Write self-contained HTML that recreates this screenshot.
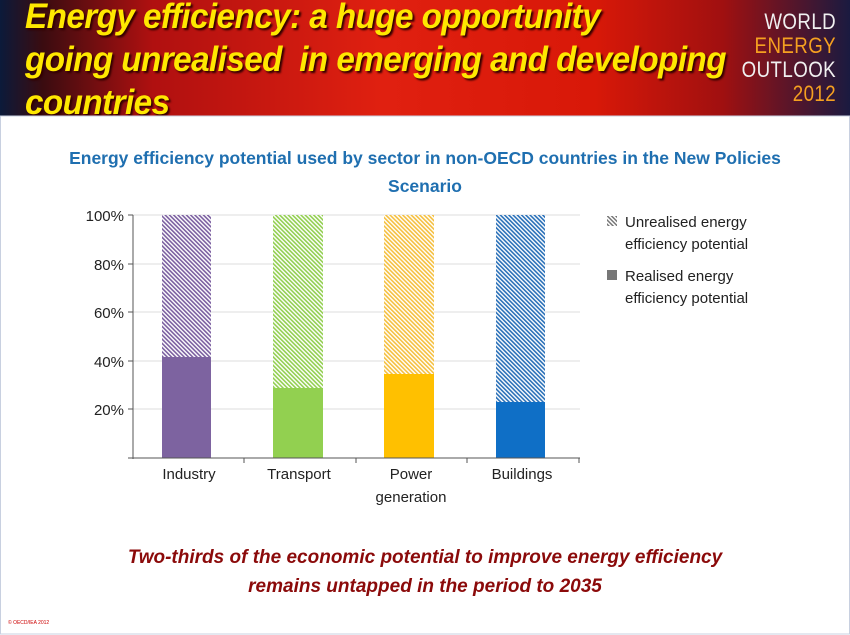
<!DOCTYPE html>
<html><head><meta charset="utf-8"><style>
body{margin:0;width:850px;height:635px;overflow:hidden;background:#fff;font-family:"Liberation Sans",sans-serif;position:relative}
.hdr{position:absolute;left:0;top:0;width:850px;height:116px;background:linear-gradient(90deg,#0b1a3a 0%,#3a0c10 5%,#b01010 18%,#e02010 45%,#d81808 70%,#a01010 85%,#1a1a40 100%);overflow:hidden}
.hdr .t{position:absolute;left:25px;top:-5px;color:#ffe800;font-weight:bold;font-style:italic;font-size:35px;line-height:43px;text-shadow:2px 2px 2px #300;letter-spacing:-0.6px;transform:scaleX(0.95);transform-origin:0 0;white-space:nowrap}
.weo{position:absolute;right:14px;top:10px;text-align:right;font-size:22px;line-height:24px;color:#f0f0f0;letter-spacing:0.5px;transform:scaleX(0.85);transform-origin:100% 0}
.ttl{position:absolute;left:0;width:850px;top:144px;text-align:center;color:#1f6fb0;font-weight:bold;font-size:17.5px;line-height:28px}
.b{position:absolute;left:0;width:850px;top:543px;text-align:center;color:#8b0a0a;font-weight:bold;font-style:italic;font-size:19px;line-height:29px}
.c{position:absolute;left:8px;top:620px;font-size:5px;color:#c00}
</style></head><body>
<div class="hdr"><div class="t">Energy efficiency: a huge opportunity<br>going unrealised&nbsp; in emerging and developing<br>countries</div>
<div class="weo">WORLD<br><span style="color:#f5a020">ENERGY</span><br>OUTLOOK<br><span style="color:#f5a020">2012</span></div></div>
<div class="ttl">Energy efficiency potential used by sector in non-OECD countries in the New Policies<br>Scenario</div>
<svg width="850" height="635" style="position:absolute;left:0;top:0" font-family="Liberation Sans, sans-serif">
<defs>
<pattern id="p1" width="3" height="3" patternUnits="userSpaceOnUse" patternTransform="rotate(-45)"><rect width="3" height="3" fill="#fff"/><rect width="1.6" height="3" fill="#7b5fa0"/></pattern>
<pattern id="p2" width="3" height="3" patternUnits="userSpaceOnUse" patternTransform="rotate(-45)"><rect width="3" height="3" fill="#fff"/><rect width="1.6" height="3" fill="#92cf50"/></pattern>
<pattern id="p3" width="3" height="3" patternUnits="userSpaceOnUse" patternTransform="rotate(-45)"><rect width="3" height="3" fill="#fff"/><rect width="1.6" height="3" fill="#f5c040"/></pattern>
<pattern id="p4" width="3" height="3" patternUnits="userSpaceOnUse" patternTransform="rotate(-45)"><rect width="3" height="3" fill="#fff"/><rect width="1.6" height="3" fill="#2a70b8"/></pattern>
<pattern id="p5" width="3" height="3" patternUnits="userSpaceOnUse" patternTransform="rotate(-45)"><rect width="3" height="3" fill="#fff"/><rect width="1.5" height="3" fill="#777"/></pattern>
</defs>
<g stroke="#ddd"><line x1="133" x2="580" y1="215" y2="215"/><line x1="133" x2="580" y1="264" y2="264"/><line x1="133" x2="580" y1="312" y2="312"/><line x1="133" x2="580" y1="361" y2="361"/><line x1="133" x2="580" y1="409" y2="409"/></g>
<rect x="162" y="215" width="49" height="243" fill="url(#p1)"/><rect x="162" y="357" width="49" height="101" fill="#7d63a0"/>
<rect x="273" y="215" width="50" height="243" fill="url(#p2)"/><rect x="273" y="388" width="50" height="70" fill="#92d050"/>
<rect x="384" y="215" width="50" height="243" fill="url(#p3)"/><rect x="384" y="374" width="50" height="84" fill="#ffc000"/>
<rect x="496" y="215" width="49" height="243" fill="url(#p4)"/><rect x="496" y="402" width="49" height="56" fill="#0f6fc6"/>
<g stroke="#555"><line x1="133" y1="215" x2="133" y2="459"/><line x1="128" y1="458" x2="580" y2="458"/>
<line x1="128" x2="133" y1="215" y2="215"/><line x1="128" x2="133" y1="264" y2="264"/><line x1="128" x2="133" y1="312" y2="312"/><line x1="128" x2="133" y1="361" y2="361"/><line x1="128" x2="133" y1="409" y2="409"/>
<line x1="244" x2="244" y1="458" y2="463"/><line x1="356" x2="356" y1="458" y2="463"/><line x1="467" x2="467" y1="458" y2="463"/><line x1="579" x2="579" y1="458" y2="463"/></g>
<g font-size="15" fill="#222" text-anchor="end"><text x="124" y="221">100%</text><text x="124" y="270">80%</text><text x="124" y="318">60%</text><text x="124" y="367">40%</text><text x="124" y="415">20%</text></g>
<g font-size="15" fill="#222" text-anchor="middle"><text x="189" y="479">Industry</text><text x="299" y="479">Transport</text><text x="411" y="479">Power</text><text x="411" y="502">generation</text><text x="522" y="479">Buildings</text></g>
<rect x="607" y="216" width="10" height="10" fill="url(#p5)"/><rect x="607" y="270" width="10" height="10" fill="#777"/>
<g font-size="15" fill="#222"><text x="625" y="227">Unrealised energy</text><text x="625" y="249">efficiency potential</text><text x="625" y="281">Realised energy</text><text x="625" y="303">efficiency potential</text></g>
<rect x="0.5" y="116" width="849" height="518" fill="none" stroke="#c8d0e0"/>
</svg>
<div class="b">Two-thirds of the economic potential to improve energy efficiency<br>remains untapped in the period to 2035</div>
<div class="c">© OECD/IEA 2012</div>
</body></html>
